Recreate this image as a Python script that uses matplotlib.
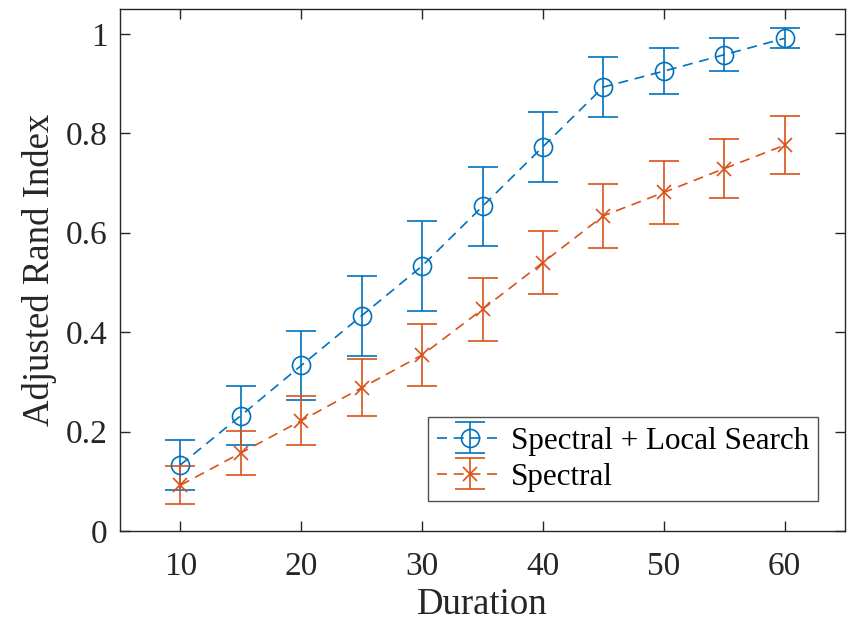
import matplotlib
matplotlib.use("Agg")
import matplotlib.pyplot as plt

duration = [10, 15, 20, 25, 30, 35, 40, 45, 50, 55, 60]
ls_mean = [0.133, 0.232, 0.333, 0.433, 0.533, 0.653, 0.773, 0.893, 0.925, 0.958, 0.991]
ls_err = [0.05, 0.06, 0.07, 0.08, 0.09, 0.08, 0.07, 0.06, 0.046, 0.033, 0.02]
sp_mean = [0.092, 0.157, 0.222, 0.288, 0.354, 0.446, 0.540, 0.634, 0.681, 0.729, 0.776]
sp_err = [0.038, 0.044, 0.05, 0.057, 0.062, 0.063, 0.064, 0.064, 0.063, 0.06, 0.058]

blue = "#0072BD"
orange = "#D95319"

plt.rcParams['font.family'] = ['Liberation Serif', 'DejaVu Serif']

fig = plt.figure(figsize=(8.48, 6.25), dpi=100)
ax = fig.add_axes([0.1415, 0.1504, 0.855, 0.8352])

ax.errorbar(duration, ls_mean, yerr=ls_err, color=blue, linestyle=(0, (6, 4)),
            linewidth=1.2, marker='o', markersize=13, markerfacecolor='none',
            markeredgewidth=1.2, capsize=11, elinewidth=1.2, capthick=1.2,
            label='Spectral + Local Search')
ax.errorbar(duration, sp_mean, yerr=sp_err, color=orange, linestyle=(0, (6, 4)),
            linewidth=1.2, marker='x', markersize=10, markeredgewidth=1.2,
            capsize=11, elinewidth=1.2, capthick=1.2, label='Spectral')

ax.set_xlim(5, 65)
ax.set_ylim(0, 1.05)
ax.set_xticks([10, 20, 30, 40, 50, 60])
ax.set_yticks([0, 0.2, 0.4, 0.6, 0.8, 1])
ax.set_yticklabels(['0', '0.2', '0.4', '0.6', '0.8', '1'])
ax.tick_params(direction='in', length=7, width=1, top=True, right=True,
               labelsize=24, colors='#262626')
ax.tick_params(axis='x', pad=15)
ax.tick_params(axis='y', pad=9)
for s in ax.spines.values():
    s.set_color('#262626')
    s.set_linewidth(1)

ax.set_xlabel('Duration', fontsize=26.5, color='#262626', labelpad=4)
ax.set_ylabel('Adjusted Rand Index', fontsize=26.5, color='#262626', labelpad=6)

leg = ax.legend(loc='lower right', bbox_to_anchor=(0.963, 0.0575), fontsize=22.4,
                frameon=True, fancybox=False, edgecolor='#262626',
                borderpad=0.3, handlelength=2.1, handletextpad=0.26,
                labelspacing=0.22, borderaxespad=0)
leg.get_frame().set_linewidth(1)
for t in leg.get_texts():
    t.set_color('#000000')

fig.savefig('out.png', dpi=100)
